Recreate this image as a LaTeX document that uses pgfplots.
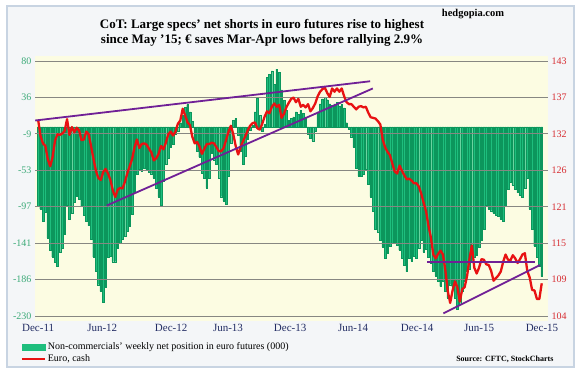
\documentclass[border=0pt]{standalone}
\usepackage{pgfplots}
\pgfplotsset{compat=1.18}
\usepackage{pgfplotstable}
\usepackage{fontspec}
\setmainfont{Liberation Serif}
\definecolor{barg}{RGB}{30,190,125}
\definecolor{bard}{RGB}{12,150,92}
\definecolor{eurred}{RGB}{232,18,18}
\definecolor{trendp}{RGB}{112,32,150}
\definecolor{gridg}{RGB}{135,135,130}
\definecolor{lgreen}{RGB}{60,170,120}
\definecolor{rred}{RGB}{215,45,50}
\definecolor{navy}{RGB}{35,45,100}
\definecolor{cream}{RGB}{252,252,226}
\definecolor{framec}{RGB}{200,212,226}
\definecolor{outerbg}{RGB}{244,246,248}

\pgfplotstableread{
w net eur
0 -97 134.0
1 -100 131.5
2 -115 130.4
3 -104 130.0
4 -135 128.0
5 -150 126.9
6 -158 128.3
7 -165 130.8
8 -170 131.8
9 -152 131.7
10 -148 131.9
11 -130 132.3
12 -95 134.1
13 -112 131.7
14 -105 132.9
15 -92 132.1
16 -84 132.8
17 -88 132.4
18 -97 130.9
19 -108 131.0
20 -115 132.2
21 -120 131.8
22 -137 129.9
23 -158 128.0
24 -175 126.2
25 -192 125.1
26 -200 124.8
27 -213 126.0
28 -195 126.5
29 -158 125.8
30 -157 124.8
31 -164 123.2
32 -164 122.2
33 -148 123.3
34 -141 123.6
35 -137 123.5
36 -133 124.5
37 -127 125.8
38 -121 126.9
39 -106 128.0
40 -80 129.8
41 -58 131.0
42 -51 129.7
43 -54 130.3
44 -50 130.4
45 -52 130.2
46 -55 129.6
47 -57 129.0
48 -62 127.8
49 -75 128.1
50 -85 128.8
51 -95 130.0
52 -66 129.5
53 -46 130.5
54 -38 131.8
55 -25 132.2
56 -21 131.6
57 -9 132.2
58 -5 133.4
59 5 133.9
60 14 135.7
61 24 134.7
62 27 133.6
63 18 133.2
64 7 131.4
65 -18 130.4
66 -30 130.6
67 -37 129.9
68 -56 128.8
69 -63 129.6
70 -74 130.3
71 -62 130.3
72 -32 130.5
73 -40 130.4
74 -46 129.8
75 -62 129.2
76 -85 129.2
77 -90 129.7
78 -94 130.9
79 -60 132.2
80 -20 133.1
81 8 131.8
82 10 130.0
83 -10 128.7
84 -30 129.8
85 -45 130.7
86 -36 131.5
87 -15 132.4
88 -4 133.1
89 2 133.5
90 18 133.6
91 35 132.7
92 14 132.5
93 -5 133.4
94 3 134.5
95 60 135.3
96 64 135.0
97 68 136.0
98 52 136.5
99 70 136.0
100 66 136.3
101 45 134.3
102 32 134.9
103 20 135.9
104 8 136.6
105 10 137.2
106 12 137.4
107 18 136.7
108 15 137.2
109 20 136.0
110 16 136.3
111 12 135.9
112 -9 136.4
113 -14 135.3
114 -17 135.8
115 -5 136.5
116 18 137.6
117 28 138.3
118 34 138.7
119 36 138.9
120 33 138.1
121 28 137.5
122 26 138.8
123 28 138.3
124 30 138.8
125 25 138.3
126 27 138.8
127 23 137.6
128 5 136.7
129 -3 136.4
130 -12 136.4
131 -25 136.0
132 -50 135.6
133 -60 136.0
134 -60 136.1
135 -58 135.9
136 -52 136.0
137 -70 135.1
138 -85 134.4
139 -103 134.3
140 -125 134.2
141 -128 133.8
142 -138 133.3
143 -146 131.0
144 -160 129.8
145 -154 129.1
146 -145 128.6
147 -141 127.3
148 -142 126.1
149 -144 125.8
150 -150 127.0
151 -160 126.2
152 -168 125.5
153 -176 124.9
154 -160 125.0
155 -163 124.7
156 -157 124.3
157 -160 124.3
158 -148 123.8
159 -138 122.7
160 -152 121.3
161 -149 120.0
162 -158 117.8
163 -166 116.0
164 -176 113.4
165 -181 112.8
166 -188 113.5
167 -194 114.0
168 -188 113.4
169 -200 111.0
170 -208 107.8
171 -192 106.0
172 -195 107.9
173 -208 109.3
174 -222 108.4
175 -215 106.2
176 -200 108.1
177 -188 108.4
178 -176 110.1
179 -173 112.7
180 -165 114.8
181 -159 111.4
182 -156 110.5
183 -146 111.4
184 -138 112.7
185 -125 112.6
186 -95 111.9
187 -100 111.8
188 -102 110.9
189 -105 109.4
190 -107 109.8
191 -109 110.2
192 -112 110.8
193 -115 112.3
194 -95 113.4
195 -76 112.6
196 -67 112.5
197 -71 113.3
198 -76 112.8
199 -80 112.1
200 -83 112.7
201 -86 113.4
202 -75 113.6
203 -63 110.9
204 -100 109.9
205 -125 108.0
206 -145 107.9
207 -158 106.6
208 -170 106.6
209 -182 109.0
}\cotdata

\begin{document}
\begin{tikzpicture}[x=1pt,y=1pt]
\useasboundingbox (0,0) rectangle (581,374);
\fill[white] (0,0) rectangle (581,374);
\filldraw[fill=outerbg, draw=framec, line width=1.5pt] (7,7) rectangle (574,368);
\fill[cream] (35,53) rectangle (548,318);
\node[font=\fontsize{13}{15}\selectfont\bfseries, align=center] at (262,341.5)
  {CoT: Large specs' net shorts in euro futures rise to highest\\since May '15; € saves Mar-Apr lows before rallying 2.9\%};
\node[font=\fontsize{10.5}{12}\selectfont\bfseries] at (473,360) {hedgopia.com};
\node[font=\fontsize{8}{10}\selectfont\bfseries, anchor=east] at (557,15) {Source: CFTC, StockCharts};

\begin{axis}[at={(35pt,53pt)}, anchor=south west, scale only axis,
  width=513pt, height=265pt, enlargelimits=false,
  xmin=-1.3, xmax=211.6, ymin=-236.08, ymax=86.08,
  axis x line*=bottom, axis y line*=left, axis line style={draw=none},
  tick style={draw=none},
  ytick={80,35.71,-8.57,-52.86,-97.14,-141.43,-185.71,-230},
  yticklabels={80,36,-9,-53,-97,-141,-186,-230},
  yticklabel style={font=\fontsize{10}{12}\selectfont, text=lgreen},
  xtick={0,26.6,55.2,78.8,104.6,130.7,157.3,183.0,209.1},
  xticklabels={Dec-11,Jun-12,Dec-12,Jun-13,Dec-13,Jun-14,Dec-14,Jun-15,Dec-15},
  xticklabel style={font=\fontsize{11}{12}\selectfont, text=navy}]
\addplot[ybar, bar width=0.7, fill=barg, draw=bard, line width=0.3pt] table[x=w, y=net] {\cotdata};
\end{axis}

\begin{axis}[at={(35pt,53pt)}, anchor=south west, scale only axis,
  width=513pt, height=265pt, enlargelimits=false,
  xmin=-1.3, xmax=211.6, ymin=103.2355, ymax=143.7645,
  axis y line*=right, axis x line=none, axis line style={draw=none},
  tick style={draw=none},
  ymajorgrids=true, major grid style={gridg, line width=0.8pt},
  ytick={143,137.43,131.86,126.29,120.71,115.14,109.57,104},
  yticklabels={143,137,132,126,121,115,109,104},
  yticklabel style={font=\fontsize{10}{12}\selectfont, text=rred},
  legend style={at={(-0.028,-0.074)}, anchor=north west, draw=none, fill=none,
    font=\fontsize{10}{11}\selectfont, inner sep=0pt, row sep=-1pt},
  legend cell align=left]
\addlegendimage{legend image code/.code={\fill[barg] (0pt,-3pt) rectangle (23pt,3pt);}}
\addlegendentry{Non-commercials' weekly net position in euro futures (000)}
\addplot[eurred, line width=2.3pt, line join=round,
  legend image code/.code={\draw[eurred, line width=2pt] (0pt,0pt) -- (23pt,0pt);}]
  table[x=w, y=eur] {\cotdata};
\addlegendentry{Euro, cash}
\addplot[trendp, line width=1.8pt, forget plot] coordinates {(-1.2,133.9) (137.8,139.9)};
\addplot[trendp, line width=1.8pt, forget plot] coordinates {(28.5,120.9) (138.9,138.8)};
\addplot[trendp, line width=1.8pt, forget plot] coordinates {(161.5,112.2) (206.2,112.2)};
\addplot[trendp, line width=1.8pt, forget plot] coordinates {(168.2,104.4) (208.3,111.8)};
\end{axis}
\end{tikzpicture}
\end{document}
